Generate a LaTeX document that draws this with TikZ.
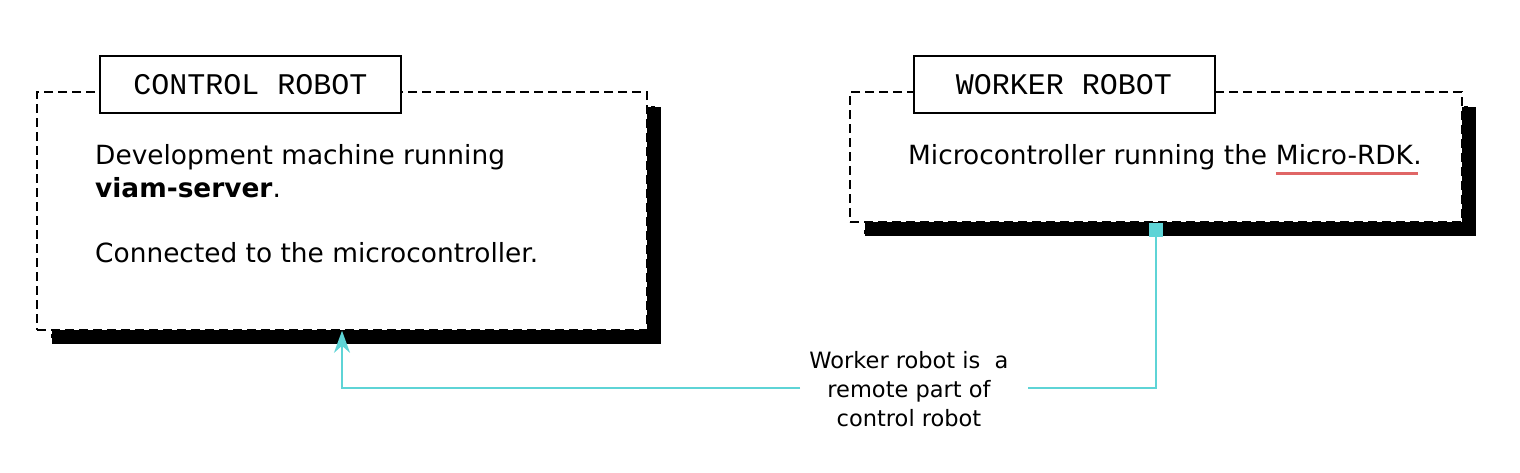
\documentclass[tikz,border=0pt]{standalone}
\usepackage{fontspec}
\setmainfont{DejaVu Sans}
\newfontfamily\titlefont{Liberation Mono}
\usetikzlibrary{arrows.meta}
\definecolor{remotecyan}{HTML}{5ED4D6}
\definecolor{rdkred}{HTML}{E06666}

\begin{document}
\begin{tikzpicture}[x=1pt, y=-1pt,
    robotbox/.style={draw, fill=white, line width=1.6pt, dash pattern=on 9pt off 5pt},
    shadowbox/.style={fill=black, draw=white, line width=1pt, dash pattern=on 9pt off 4pt},
    titlebox/.style={draw, fill=white, line width=2pt, inner sep=0pt,
      minimum width=301pt, minimum height=57pt, font=\titlefont\fontsize{30}{36}\selectfont},
    body/.style={inner sep=0pt, anchor=base west, font=\fontsize{26.4}{33}\selectfont},
    remark/.style={inner sep=0pt, align=center, font=\fontsize{22.5}{29}\selectfont},
    remoteline/.style={draw=remotecyan, line width=2pt}]
      \useasboundingbox (0,0) rectangle (1520,472);

      % control robot
      \coordinate (ctrlc) at (342,211);
      \node (ctrlshadow) at ([shift={(14,14)}]ctrlc) [shadowbox, minimum width=610pt, minimum height=238pt] {};
      \node (ctrl) at (ctrlc) [robotbox, minimum width=610pt, minimum height=238pt] {};
      \node (ctrltitle) at (250.5,84.5) [titlebox] {CONTROL ROBOT};
      \node (dev) at (95,164) [body] {Development machine running};
      \node (srv) at (95,197) [body] {\textbf{viam-server}.};
      \node (conn) at (95,262) [body] {Connected to the microcontroller.};

      % worker robot
      \coordinate (wrkc) at (1156,157);
      \node (wrkshadow) at ([shift={(14,14)}]wrkc) [shadowbox, minimum width=612pt, minimum height=130pt] {};
      \node (wrk) at (wrkc) [robotbox, minimum width=612pt, minimum height=130pt] {};
      \node (wrktitle) at (1064,84.5) [titlebox] {WORKER ROBOT};
      \node (mcu) at (908,164) [body] {Microcontroller running the};
      \node (rdk) at ([xshift=8.4pt]mcu.base east) [body] {Micro-RDK};
      \node (dot) at (rdk.base east) [body] {.};
      \draw[rdkred, line width=3pt] ([yshift=-9pt]rdk.base west) to ([shift={(5pt,-9pt)}]rdk.base east);

      % remote part
      \node (port) at (wrk.south) [fill=remotecyan, anchor=north, inner sep=0pt, minimum size=14pt] {};
      \node (remark) at (909,389) [remark] {Worker robot is~ a\\remote part of\\control robot};
      \coordinate (gapr) at (1028,388);
      \coordinate (gapl) at (800,388);
      \draw[remoteline] (port.south) |- (gapr);
      \draw[remoteline, -{Stealth[length=22pt, width=16pt, inset=7pt]}] (gapl) -| (ctrl.south);

\end{tikzpicture}
\end{document}
